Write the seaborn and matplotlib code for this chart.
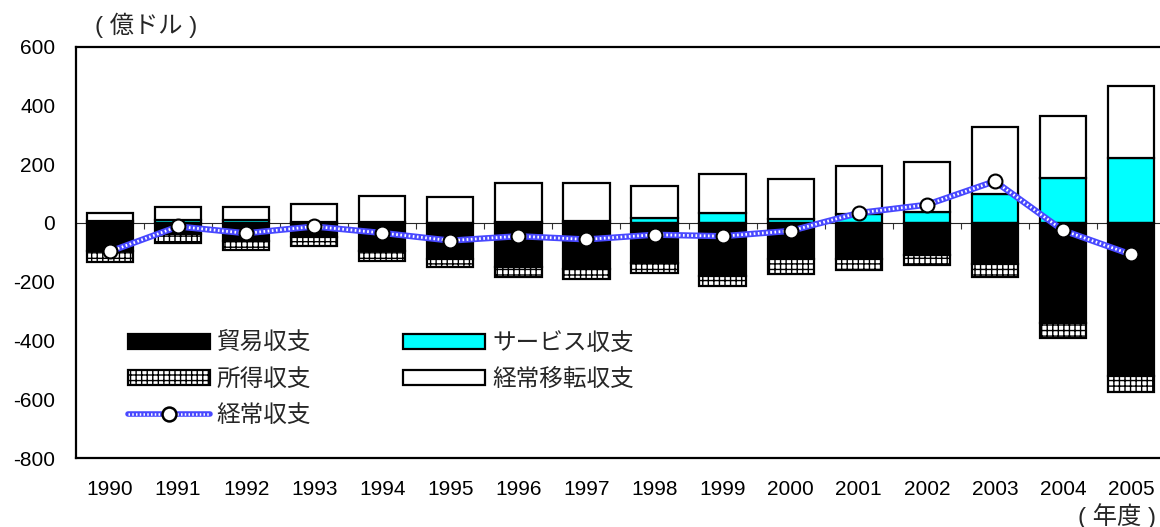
import numpy as np
import matplotlib
matplotlib.use("Agg")
import matplotlib.pyplot as plt
import seaborn as sns
from matplotlib.patches import Patch
from matplotlib.lines import Line2D
from matplotlib.ticker import NullFormatter

# ---- data (100 million USD) ----
years = ["1990", "1991", "1992", "1993", "1994", "1995", "1996", "1997",
         "1998", "1999", "2000", "2001", "2002", "2003", "2004", "2005"]
trade = [-94, -37, -60, -47, -94, -122, -150, -158, -135, -180, -124, -122, -110, -139, -341, -521]
service = [8, 10, 10, 5, 2, 0, 3, 7, 18, 35, 15, 32, 37, 100, 153, 222]
income = [-39, -32, -32, -30, -34, -29, -34, -34, -34, -35, -51, -37, -32, -45, -50, -54]
transfers = [26, 46, 43, 59, 91, 90, 133, 129, 109, 133, 134, 161, 170, 225, 211, 245]
current = [-97, -12, -35, -12, -34, -60, -45, -56, -40, -45, -27, 34, 62, 142, -25, -107]

labels = ["貿易収支", "所得収支", "経常収支", "サービス収支", "経常移転収支"]

# ---- style ----
sns.set_style("white")
plt.rcParams["font.family"] = ["Liberation Sans", "Noto Sans CJK JP"]
plt.rcParams["axes.unicode_minus"] = False
plt.rcParams["hatch.linewidth"] = 1.0

CYAN = "#00ffff"
LINE_BLUE = "#4848ff"
EDGE_W = 1.6
BAR_W = 0.68
HATCH = "+++"

fig = plt.figure(figsize=(11.6, 5.27), dpi=100)
ax = fig.add_axes([0.0655, 0.1309, 0.9388, 0.7805])

bar_kw = dict(ax=ax, width=BAR_W, saturation=1, errorbar=None,
              edgecolor="black", linewidth=EDGE_W)

# positive side: service then current transfers on top
sns.barplot(x=years, y=service, color=CYAN, **bar_kw)
sns.barplot(x=years, y=transfers, bottom=service, color="white", **bar_kw)
# negative side: trade then income below
sns.barplot(x=years, y=trade, color="black", **bar_kw)
sns.barplot(x=years, y=income, bottom=trade, color="white", hatch=HATCH, **bar_kw)

# current account line (checkered blue look) with white circle markers
xpos = np.arange(len(years))
sns.lineplot(x=xpos, y=current, color=LINE_BLUE, linewidth=4.5, ax=ax, zorder=5)
ax.plot(xpos, current, color="white", linewidth=2, linestyle=(0, (0.6, 0.9)), zorder=6)
ax.plot(xpos, current, linestyle="none", marker="o", markersize=10,
        markerfacecolor="white", markeredgecolor="black", markeredgewidth=1.5, zorder=7)

# axes
ymin, ymax = -800, 600
ax.set_ylim(ymin, ymax)
ax.set_xlim(-0.5, len(years) - 0.5)
ax.set_yticks(np.arange(ymin, ymax + 1, 200))
ax.set_xlabel("")
ax.set_ylabel("")
ax.tick_params(axis="y", direction="in", length=5, width=1, pad=15, labelsize=15, colors="black")
ax.tick_params(axis="x", length=0, pad=16, labelsize=15, colors="black")
for side in ["left", "top", "bottom"]:
    ax.spines[side].set_color("black")
    ax.spines[side].set_linewidth(1.6)
ax.spines["right"].set_visible(False)

# zero line with category-boundary ticks
sec = ax.secondary_xaxis((0 - ymin) / (ymax - ymin))
sec.set_xticks(np.arange(len(years) + 1) - 0.5)
sec.xaxis.set_major_formatter(NullFormatter())
sec.tick_params(direction="in", length=4.5, width=0.8, color="#333333")
sec.spines["bottom"].set_linewidth(0.8)
sec.spines["bottom"].set_color("#333333")

# legend
h_trade = Patch(facecolor="black", edgecolor="black", linewidth=EDGE_W)
h_income = Patch(facecolor="white", edgecolor="black", hatch=HATCH, linewidth=EDGE_W)
h_current = (Line2D([], [], color=LINE_BLUE, linewidth=4),
             Line2D([], [], color="white", linewidth=1.8, linestyle=(0, (0.6, 0.9))),
             Line2D([], [], linestyle="none", marker="o", markersize=10,
                    markerfacecolor="white", markeredgecolor="black", markeredgewidth=1.8))
h_service = Patch(facecolor=CYAN, edgecolor="black", linewidth=EDGE_W)
h_transfer = Patch(facecolor="white", edgecolor="black", linewidth=EDGE_W)

fig.legend([h_trade, h_income, h_current, h_service, h_transfer], labels,
           loc="upper left", bbox_to_anchor=(116 / 1160, 1 - 321 / 527),
           ncol=2, frameon=False, fontsize=17, handlelength=3.47, handleheight=0.6,
           handletextpad=0.3, columnspacing=3.9, labelspacing=0.6, borderpad=0)

# unit labels
fig.text(95 / 1160, 1 - 25 / 527, "( 億ドル )", fontsize=17.5, ha="left", va="center")
fig.text(1156 / 1160, 1 - 516 / 527, "( 年度 )", fontsize=17.5, ha="right", va="center")

fig.savefig("out.png", dpi=100)
